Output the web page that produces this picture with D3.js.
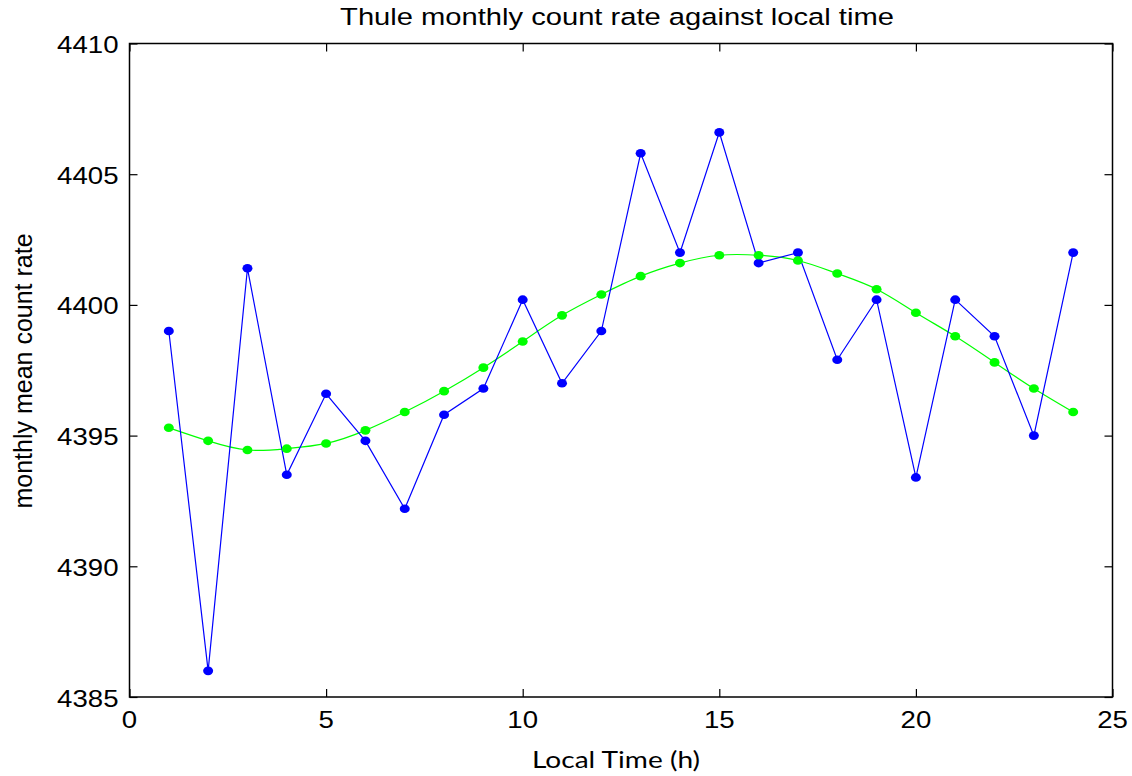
<!DOCTYPE html>
<html>
<head>
<meta charset="utf-8">
<script src="https://d3js.org/d3.v7.min.js"></script>
<style>
  body { margin: 0; background: #fff; }
  svg { display: block; }
</style>
</head>
<body>
<div id="chart"></div>
<script>
var hours = d3.range(1, 25);

// measured monthly mean count rate
var measured = [4399.0, 4386.0, 4401.4, 4393.5, 4396.6, 4394.8, 4392.2, 4395.8,
                4396.8, 4400.2, 4397.0, 4399.0, 4405.8, 4402.0, 4406.6, 4401.6,
                4402.0, 4397.9, 4400.2, 4393.4, 4400.2, 4398.8, 4395.0, 4402.0];

// fitted curve
var fitted = [4395.3, 4394.8, 4394.45, 4394.5, 4394.7, 4395.2, 4395.9, 4396.7,
              4397.6, 4398.6, 4399.6, 4400.4, 4401.1, 4401.6, 4401.9, 4401.9,
              4401.7, 4401.2, 4400.6, 4399.7, 4398.8, 4397.8, 4396.8, 4395.9];

var xTicks = [0, 5, 10, 15, 20, 25];
var yTicks = [4385, 4390, 4395, 4400, 4405, 4410];

var width = 1132,
    height = 776;
var margin = {left: 129.5, right: 19.5, top: 43.5, bottom: 79};

var svg = d3.select("#chart")
    .append("svg")
    .attr("width", width)
    .attr("height", height);

var x = d3.scaleLinear().domain([0, 25]).range([margin.left, width - margin.right]);
var y = d3.scaleLinear().domain([4385, 4410]).range([height - margin.bottom, margin.top]);

var tickLen = 8;
var stretch = 1.15;   // the original text is a bit wider than it is tall
var arial = "'Liberation Sans', Arial, sans-serif";

// frame
svg.append("rect")
    .attr("x", x(0)).attr("y", y(4410))
    .attr("width", x(25) - x(0)).attr("height", y(4385) - y(4410))
    .style("fill", "none").style("stroke", "#000").style("stroke-width", 1.5);

// inward ticks on all four sides
svg.append("g").attr("transform", "translate(0," + y(4385) + ")")
    .call(d3.axisBottom(x).tickValues(xTicks).tickSize(-tickLen).tickFormat(""))
    .call(g => g.select(".domain").remove());
svg.append("g").attr("transform", "translate(0," + y(4410) + ")")
    .call(d3.axisTop(x).tickValues(xTicks).tickSize(-tickLen).tickFormat(""))
    .call(g => g.select(".domain").remove());
svg.append("g").attr("transform", "translate(" + x(0) + ",0)")
    .call(d3.axisLeft(y).tickValues(yTicks).tickSize(-tickLen).tickFormat(""))
    .call(g => g.select(".domain").remove());
svg.append("g").attr("transform", "translate(" + x(25) + ",0)")
    .call(d3.axisRight(y).tickValues(yTicks).tickSize(-tickLen).tickFormat(""))
    .call(g => g.select(".domain").remove());
svg.selectAll(".tick line").style("stroke", "#000").style("stroke-width", 1.2);

// tick labels
svg.append("g").selectAll("text")
    .data(xTicks)
    .enter().append("text")
    .attr("transform", function(d) {
        return "translate(" + x(d) + "," + (y(4385) + 31) + ") scale(" + stretch + ",1)";
    })
    .attr("text-anchor", "middle")
    .style("font-family", arial)
    .style("font-size", "24px")
    .text(function(d) { return d; });

svg.append("g").selectAll("text")
    .data(yTicks)
    .enter().append("text")
    .attr("transform", function(d) {
        return "translate(" + (x(0) - 11) + "," + (y(d) + 9.5) + ") scale(" + stretch + ",1)";
    })
    .attr("text-anchor", "end")
    .style("font-family", arial)
    .style("font-size", "24px")
    .text(function(d) { return d; });

// title and axis labels
svg.append("text")
    .attr("transform", "translate(617,25) scale(1.19,1)")
    .attr("text-anchor", "middle")
    .style("font-family", arial)
    .style("font-size", "24.5px")
    .text("Thule monthly count rate against local time");

svg.append("text")
    .attr("transform", "translate(616,768) scale(1.17,1)")
    .attr("text-anchor", "middle")
    .style("font-family", "Lato, 'Open Sans', sans-serif")
    .style("font-size", "24px")
    .text("Local Time (h)");

svg.append("text")
    .attr("transform", "translate(32,371) rotate(-90)")
    .attr("text-anchor", "middle")
    .style("font-family", arial)
    .style("font-size", "25px")
    .text("monthly mean count rate");

// series
var measuredPts = hours.map(function(h, i) { return [h, measured[i]]; });
var fittedPts = hours.map(function(h, i) { return [h, fitted[i]]; });

var lineStraight = d3.line().x(d => x(d[0])).y(d => y(d[1]));
var lineSmooth = d3.line().x(d => x(d[0])).y(d => y(d[1])).curve(d3.curveNatural);

svg.append("path")
    .datum(fittedPts)
    .attr("d", lineSmooth)
    .style("fill", "none").style("stroke", "#00ff00").style("stroke-width", 1.2);

svg.append("path")
    .datum(measuredPts)
    .attr("d", lineStraight)
    .style("fill", "none").style("stroke", "#0000ff").style("stroke-width", 1.2);

svg.append("g").selectAll("ellipse")
    .data(measuredPts)
    .enter().append("ellipse")
    .attr("cx", d => x(d[0])).attr("cy", d => y(d[1]))
    .attr("rx", 5).attr("ry", 4.3)
    .style("fill", "#0000ff");

svg.append("g").selectAll("ellipse")
    .data(fittedPts)
    .enter().append("ellipse")
    .attr("cx", d => x(d[0])).attr("cy", d => y(d[1]))
    .attr("rx", 5).attr("ry", 4.3)
    .style("fill", "#00ff00");
</script>
</body>
</html>
